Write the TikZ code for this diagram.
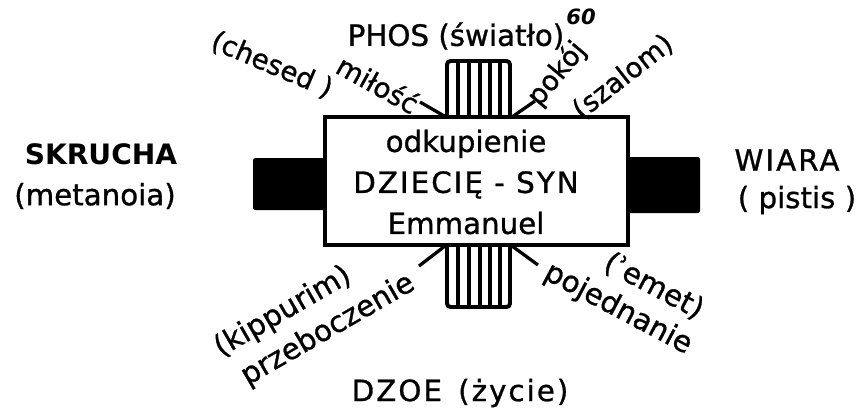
\documentclass[tikz,border=0pt]{standalone}
\usepackage{fontspec}
\setmainfont{DejaVu Sans}
\newfontfamily\heavyfont[FakeBold=1]{DejaVu Sans}
\newfontfamily\widefont[FakeBold=1,LetterSpace=7]{DejaVu Sans}
\begin{document}
\begin{tikzpicture}[x=0.03cm, y=-0.03cm,
    word/.style={inner sep=0pt, font=\fontsize{25}{30}\heavyfont},
    smallword/.style={inner sep=0pt, font=\fontsize{23.5}{28}\heavyfont},
    stripe/.style={line width=3.4pt},
    tick/.style={line width=2.8pt}]
    \useasboundingbox (0,0) rectangle (865,412);

    % Side bars
    \fill[rounded corners=2pt] (253,158) rectangle (330,210);
    \fill[rounded corners=2pt] (623,157) rectangle (700,213);

    % Striped blocks
    \draw[stripe, rounded corners=3pt] (447,117) -- (447,61) -- (510,61) -- (510,117);
    \draw[stripe, rounded corners=3pt] (447,245) -- (447,307) -- (510,307) -- (510,245);
    \foreach \x in {458,469,480,490,500} {
      \draw[stripe] (\x,61) -- (\x,117);
      \draw[stripe] (\x,245) -- (\x,307);
    }

    % Nodes
    \node[draw, line width=3.8pt, fill=white, minimum width=9.09cm, minimum height=3.84cm] at (476.5,181) (box) {};
    \node[word, align=center, font=\fontsize{25}{35}\heavyfont] at (466,182) (inner) {odkupienie\\{\widefont DZIECIĘ - SYN}\\Emmanuel};

    \node[word] at (456,36) (phos) {PHOS (światło)};
    \node[inner sep=0pt, font=\fontsize{18}{18}\selectfont\bfseries\itshape] at (581,17) (note) {60};
    \node[smallword] at (272,65) (chesed) [rotate=-23] {(chesed )};
    \node[smallword] at (378,84) (milosc) [rotate=-29] {miłość};
    \node[smallword] at (557,74) (pokoj) [rotate=50] {pokój};
    \node[smallword] at (623,77) (szalom) [rotate=38] {(szalom)};
    \node[word] at (283,312) (kippurim) [rotate=30] {(kippurim)};
    \node[word] at (328,330) (przeb) [rotate=30] {przeboczenie};
    \node[word] at (654,286) (emet) [rotate=-28] {(ʾemet)};
    \node[word] at (618,309) (pojedn) [rotate=-28] {pojednanie};
    \node[word] at (460,393) (dzoe) {{\widefont DZOE \,(życie)}};
    \node[word, font=\fontsize{24}{28}\selectfont\bfseries] at (101,154) (skrucha) {SKRUCHA};
    \node[word] at (95,196) (metanoia) {(metanoia)};
    \node[word] at (787,160) (wiara) {{\widefont WIARA}};
    \node[word] at (797,200) (pistis) {( pistis )};

    % Ticks
    \coordinate (tl) at (420,102);
    \coordinate (tr) at (535,101);
    \coordinate (bl) at (419,266);
    \coordinate (br) at (538,265);
    \draw[tick] (tl) -- (446,117);
    \draw[tick] (tr) -- (512,117);
    \draw[tick] (bl) -- (445,246);
    \draw[tick] (br) -- (512,246);
\end{tikzpicture}
\end{document}
